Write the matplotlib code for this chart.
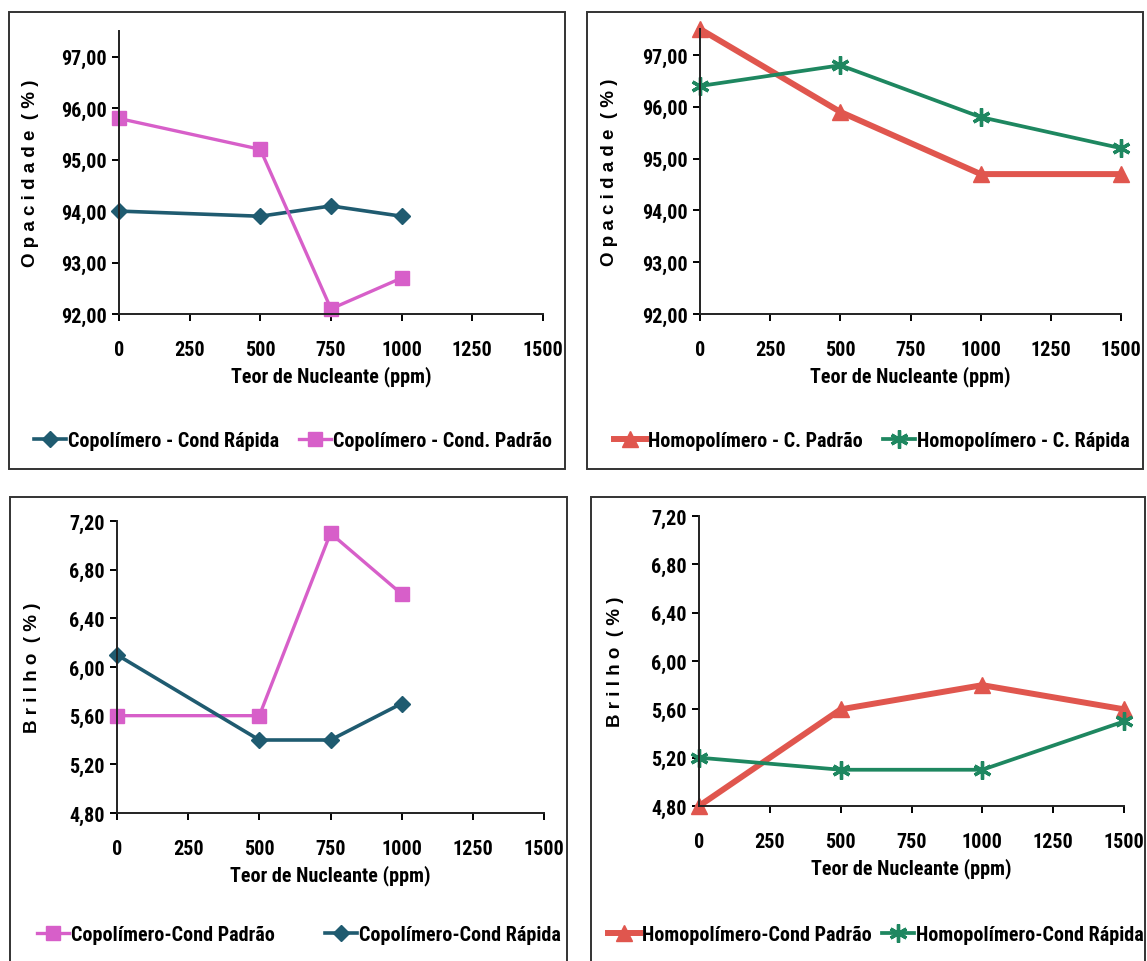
import matplotlib
matplotlib.use("Agg")
import matplotlib.pyplot as plt
from matplotlib import font_manager
from matplotlib.font_manager import FontProperties
from matplotlib.patches import Rectangle

# ---------------- data ----------------
x_cop = [0, 500, 750, 1000]
x_hom = [0, 500, 1000, 1500]
x_ticks = [0, 250, 500, 750, 1000, 1250, 1500]

opac_cop_rapida = [94.0, 93.9, 94.1, 93.9]
opac_cop_padrao = [95.8, 95.2, 92.1, 92.7]
opac_hom_padrao = [97.5, 95.9, 94.7, 94.7]
opac_hom_rapida = [96.4, 96.8, 95.8, 95.2]

brilho_cop_padrao = [5.6, 5.6, 7.1, 6.6]
brilho_cop_rapida = [6.1, 5.4, 5.4, 5.7]
brilho_hom_padrao = [4.8, 5.6, 5.8, 5.6]
brilho_hom_rapida = [5.2, 5.1, 5.1, 5.5]

opac_ticks = [92, 93, 94, 95, 96, 97]
brilho_ticks = [4.8, 5.2, 5.6, 6.0, 6.4, 6.8, 7.2]

# ---------------- fonts ----------------
def find_narrow_bold():
    prefs = ["liberation sans narrow", "arial narrow", "roboto condensed",
             "noto sans condensed", "open sans condensed", "dejavu sans condensed"]
    cands = []
    for f in font_manager.fontManager.ttflist:
        nm = f.name.lower()
        fn = f.fname.lower()
        w = f.weight if isinstance(f.weight, int) else (700 if "bold" in str(f.weight).lower() else 400)
        if w < 600 or "italic" in fn or f.style != "normal":
            continue
        if "narrow" in nm or "condensed" in nm or "narrow" in fn or "condensed" in fn:
            if "semicondensed" in fn or "extracondensed" in fn:
                continue
            rank = len(prefs)
            for i, p in enumerate(prefs):
                if p in nm or p.replace(" ", "") in fn.replace("-", "").replace("_", ""):
                    rank = i
                    break
            cands.append((rank, abs(w - 700), f.fname))
    if cands:
        cands.sort()
        return cands[0][2]
    return None

narrow_path = find_narrow_bold()
if narrow_path:
    def NFP(size):
        return FontProperties(fname=narrow_path, size=size)
    FS = 14.5
else:
    def NFP(size):
        return FontProperties(family=["Liberation Sans", "DejaVu Sans"], weight="bold", size=size)
    FS = 12.5

WIDE_FP = FontProperties(family=["Liberation Sans", "DejaVu Sans"], weight="bold", size=13.5)

C_TEAL = "#1f5b70"
C_PINK = "#d75fc9"
C_RED = "#e0564e"
C_GREEN = "#1e8760"
ASTER = (6, 2, 0)

W, H = 1147, 962
fig = plt.figure(figsize=(W / 100, H / 100), dpi=100)

def rect_px(l, t, r, b):
    return [l / W, 1 - b / H, (r - l) / W, (b - t) / H]

# panel boxes
for (l, t, r, b) in [(9, 13, 565, 470), (587, 13, 1143, 470), (10, 498, 567, 966), (591, 498, 1145, 966)]:
    fig.patches.append(Rectangle((l / W, 1 - b / H), (r - l) / W, (b - t) / H,
                                 transform=fig.transFigure, fill=False,
                                 edgecolor="#333333", linewidth=1.4))

def style(ax, yticks, ylim, ylab, fmt, ylabpad):
    ax.set_xlim(0, 1500)
    ax.set_ylim(*ylim)
    ax.spines["top"].set_visible(False)
    ax.spines["right"].set_visible(False)
    for s in ("left", "bottom"):
        ax.spines[s].set_linewidth(1.4)
        ax.spines[s].set_color("#222222")
    ax.set_xticks(x_ticks)
    ax.set_xticklabels([str(v) for v in x_ticks])
    ax.set_yticks(yticks)
    ax.set_yticklabels([fmt(v) for v in yticks])
    for lab in ax.get_xticklabels() + ax.get_yticklabels():
        lab.set_fontproperties(NFP(FS))
    ax.tick_params(axis="x", direction="out", length=5, width=1.4, pad=14)
    ax.tick_params(axis="y", direction="out", length=5, width=1.4, pad=4)
    ax.set_xlabel("Teor de Nucleante (ppm)", fontproperties=NFP(FS), labelpad=4)
    ax.set_ylabel(ylab, fontproperties=WIDE_FP, labelpad=ylabpad)
    for sp in ax.spines.values():
        sp.set_clip_on(False)

fmt_o = lambda v: f"{v:.2f}".replace(".", ",")

opac_lab = "O p a c i d a d e  ( % )"
brilho_lab = "B r i l h o  ( % )"

def add_legend(handles, labels, cx, cy, colsp):
    fig.legend(handles, labels, loc="center", bbox_to_anchor=(cx / W, 1 - cy / H), ncol=2,
               frameon=False, handlelength=1.6, handletextpad=0.1, columnspacing=colsp,
               prop=NFP(FS), borderaxespad=0, borderpad=0)

# Panel 1
ax1 = fig.add_axes(rect_px(119, 32, 543, 315))
l1, = ax1.plot(x_cop, opac_cop_rapida, color=C_TEAL, lw=2.6, marker="D", ms=8.5, clip_on=False)
l2, = ax1.plot(x_cop, opac_cop_padrao, color=C_PINK, lw=2.4, marker="s", ms=10.5, clip_on=False)
style(ax1, opac_ticks, (92, 97.5), opac_lab, fmt_o, 16)
add_legend([l1, l2], ["Copolímero - Cond Rápida", "Copolímero - Cond. Padrão"], 293, 442, 1.0)

# Panel 2
ax2 = fig.add_axes(rect_px(700, 30, 1121, 315))
l3, = ax2.plot(x_hom, opac_hom_padrao, color=C_RED, lw=4.3, marker="^", ms=11, clip_on=False)
l4, = ax2.plot(x_hom, opac_hom_rapida, color=C_GREEN, lw=2.7, marker=ASTER, ms=13, mew=2.4, clip_on=False)
style(ax2, opac_ticks, (92, 97.5), opac_lab, fmt_o, 17)
add_legend([l3, l4], ["Homopolímero - C. Padrão", "Homopolímero - C. Rápida"], 872, 442, 1.0)

# Panel 3
ax3 = fig.add_axes(rect_px(117, 522, 544, 814))
l5, = ax3.plot(x_cop, brilho_cop_padrao, color=C_PINK, lw=2.4, marker="s", ms=10.5, clip_on=False)
l6, = ax3.plot(x_cop, brilho_cop_rapida, color=C_TEAL, lw=2.6, marker="D", ms=8.5, clip_on=False)
style(ax3, brilho_ticks, (4.8, 7.2), brilho_lab, fmt_o, 20)
add_legend([l5, l6], ["Copolímero-Cond Padrão", "Copolímero-Cond Rápida"], 299, 936, 2.5)

# Panel 4
ax4 = fig.add_axes(rect_px(699, 517, 1124, 807))
l7, = ax4.plot(x_hom, brilho_hom_padrao, color=C_RED, lw=4.3, marker="^", ms=11, clip_on=False)
l8, = ax4.plot(x_hom, brilho_hom_rapida, color=C_GREEN, lw=2.7, marker=ASTER, ms=13, mew=2.4, clip_on=False)
style(ax4, brilho_ticks, (4.8, 7.2), brilho_lab, fmt_o, 19)
add_legend([l7, l8], ["Homopolímero-Cond Padrão", "Homopolímero-Cond Rápida"], 876, 936, 0.5)

fig.savefig("out.png", dpi=100)
